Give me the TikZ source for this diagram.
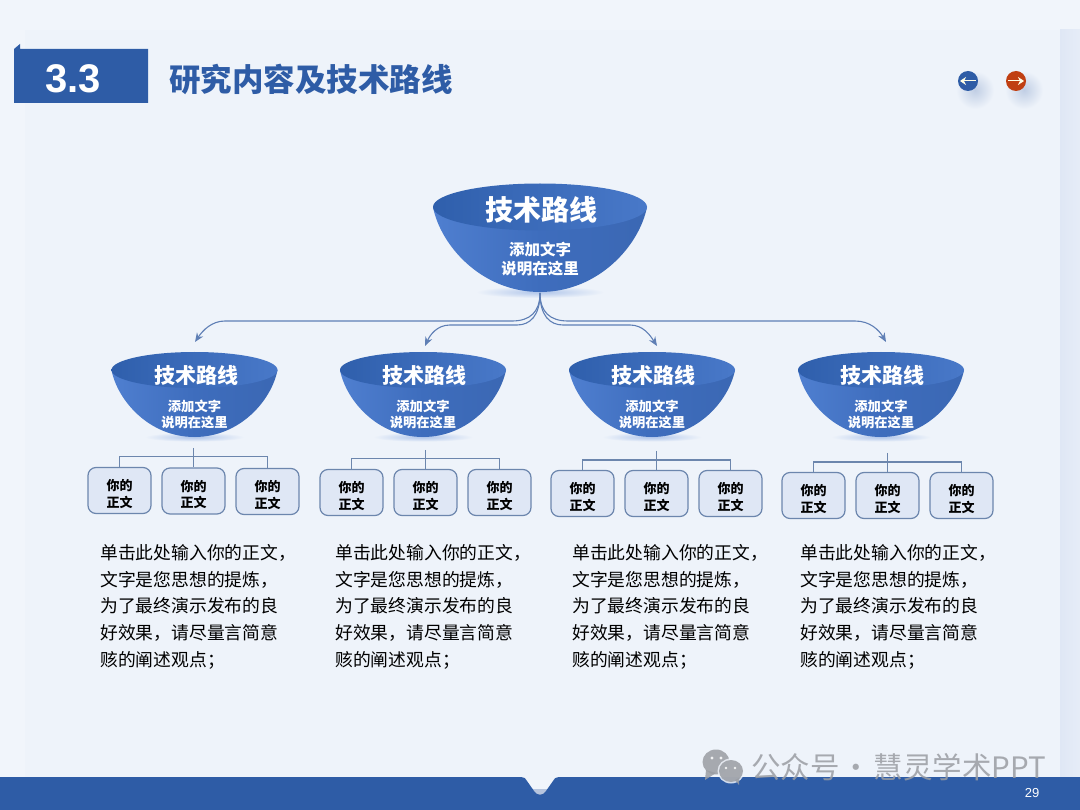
\documentclass[tikz,border=0pt]{standalone}
\usepackage{fontspec}
\setmainfont{Noto Sans CJK SC}
\newfontfamily\latinfont{Liberation Sans}
\usepackage{xcolor}
\usetikzlibrary{arrows.meta,positioning,calc,shapes.geometric}
\definecolor{RouteBlue}{HTML}{2E5CA6}
\definecolor{RouteDeep}{HTML}{2F5FAC}
\definecolor{RouteMid}{HTML}{3E6DBD}
\definecolor{RouteLight}{HTML}{4F7FD0}
\definecolor{RouteLine}{HTML}{5F7FB5}
\definecolor{PanelFill}{HTML}{EEF3FA}
\definecolor{PageFill}{HTML}{F1F5FB}
\definecolor{BandFill}{HTML}{DFE7F5}
\definecolor{BoxFill}{HTML}{DFE7F5}
\definecolor{BoxEdge}{HTML}{6C86AD}
\definecolor{NavRed}{HTML}{C03F12}
\definecolor{MarkGray}{HTML}{9A9DA3}
\tikzset{
  routearrow/.style={-{Stealth[length=3.2mm,width=2.6mm]},line width=1.1pt,draw=RouteLine},
  bracketline/.style={line width=1.2pt,draw=BoxEdge},
  partbox/.style={draw=BoxEdge,fill=BoxFill,line width=1.2pt,rounded corners=8pt,minimum width=63pt,minimum height=46pt,align=center,inner sep=0pt,font=\fontsize{13}{16.5}\selectfont\bfseries,text=black},
  bodytext/.style={anchor=north west,align=left,inner sep=0pt,font=\fontsize{17.8}{26.8}\selectfont,text=black},
  bigtitle/.style={text=white,inner sep=0pt,font=\fontsize{28}{30}\selectfont\bfseries},
  bigsub/.style={text=white,align=center,inner sep=0pt,font=\fontsize{15.5}{19}\selectfont\bfseries},
  smalltitle/.style={text=white,inner sep=0pt,font=\fontsize{21}{23}\selectfont\bfseries},
  smallsub/.style={text=white,align=center,inner sep=0pt,font=\fontsize{13.3}{16}\selectfont\bfseries},
  navdot/.style={circle,minimum size=20pt,inner sep=0pt},
  navarrow/.style={-{Stealth[length=6pt,width=8pt]},line width=1pt,draw=white!90!yellow}
}
\newcommand{\parttext}{\rule{0pt}{18pt}你的\\正文}
% bowl: centre x, rim y, half width, rim half height, depth
\newcommand{\bowlshape}[5]{%
  \begin{scope}[shift={(#1,#2)},x=#3pt,y=-#5pt]
    \shade[inner color=RouteLight!45,outer color=PanelFill] (0,1.0) ellipse [x radius=.6,y radius=.07];
    \shade[left color=RouteLight,right color=RouteMid!95!black,middle color=RouteMid]
      (-1,0) .. controls (-.93,.45) and (-.55,1) .. (0,1)
      .. controls (.55,1) and (.93,.45) .. (1,0) -- cycle;
    \shade[left color=RouteDeep,right color=RouteLight!80!RouteDeep]
      (0,0) ellipse [x radius=1,y radius=#4/#5];
  \end{scope}
}
\begin{document}
\begin{tikzpicture}[x=1pt,y=-1pt]
\useasboundingbox (0,0) rectangle (1080,810);
\fill[PageFill] (0,0) rectangle (1080,810);
\fill[PanelFill] (25,30) rectangle (1060,780);
\shade[left color=BandFill,right color=BandFill!60!PageFill] (1060,30) rectangle (1080,780);
% header
\fill[RouteBlue] (14,49) -- (20,44) -- (20,49) -- (148,49) -- (148,103) -- (14,103) -- cycle;
\node[inner sep=0pt,text=white,font=\fontsize{40}{42}\selectfont\latinfont\bfseries] (secnum) at (73,79) {3.3};
\node[anchor=west,inner sep=0pt,text=RouteBlue,font=\fontsize{31.5}{34}\selectfont\bfseries] (sectitle) at (169,79) {研究内容及技术路线};
% nav buttons
\shade[inner color=RouteBlue!30,outer color=PanelFill] (975,90) circle (19);
\shade[inner color=RouteBlue!30,outer color=PanelFill] (1024,90) circle (19);
\node[navdot,fill=RouteBlue] (navback) at (968,81) {};
\node[navdot,fill=NavRed] (navnext) at (1016,81) {};
\draw[navarrow] (navback.center) ++(8,0) -- ++(-16,0);
\draw[navarrow] (navnext.center) ++(-8,0) -- ++(16,0);
% bowls
\bowlshape{540}{207}{107}{23.5}{85}
\bowlshape{194.5}{370}{83}{18}{67}
\bowlshape{423}{370}{83}{18}{67}
\bowlshape{652}{370}{83}{18}{67}
\bowlshape{881}{370}{83}{18}{67}
\node[bigtitle] (root) at (541.5,210) {技术路线};
\node[bigsub] (rootsub) at (540,259) {添加文字\\说明在这里};
\coordinate (roottip) at (540,293);
\foreach \name/\cx in {a/194.5,b/423,c/652,d/881}{
  \node[smalltitle] (route\name) at (\cx+1.5,375) {技术路线};
  \node[smallsub] (sub\name) at (\cx,414) {添加文字\\说明在这里};
}
\coordinate (tipa) at (195,342);
\coordinate (tipb) at (425,346);
\coordinate (tipc) at (657,346);
\coordinate (tipd) at (886,342);
\draw[routearrow] (roottip) .. controls (540,312) and (530,321) .. (512,321) -- (225,321) .. controls (212,321) and (203,330) .. (tipa);
\draw[routearrow] (roottip) .. controls (540,316) and (530,325) .. (517,325) -- (450,325) .. controls (437,325) and (430,335) .. (tipb);
\draw[routearrow] (roottip) .. controls (540,316) and (550,325) .. (563,325) -- (630,325) .. controls (643,325) and (650,335) .. (tipc);
\draw[routearrow] (roottip) .. controls (540,312) and (550,321) .. (568,321) -- (855,321) .. controls (870,321) and (879,330) .. (tipd);
% part boxes
\node[partbox] (a1) at (119.5,490.5) {\parttext};
\node[partbox,right=9.8pt of a1,yshift=-.5pt] (a2) {\parttext};
\node[partbox,right=9.8pt of a2,yshift=-.5pt] (a3) {\parttext};
\node[partbox] (b1) at (351.5,492.5) {\parttext};
\node[partbox,right=9.8pt of b1] (b2) {\parttext};
\node[partbox,right=9.8pt of b2] (b3) {\parttext};
\node[partbox] (c1) at (582.5,493.5) {\parttext};
\node[partbox,right=9.8pt of c1] (c2) {\parttext};
\node[partbox,right=9.8pt of c2] (c3) {\parttext};
\node[partbox] (d1) at (813.5,495.5) {\parttext};
\node[partbox,right=9.8pt of d1] (d2) {\parttext};
\node[partbox,right=9.8pt of d2] (d3) {\parttext};
\foreach \g/\yb/\ytop in {a/456.5/448,b/458.5/450,c/460/451,d/462/453}{
  \coordinate (stem\g) at (\g2.north |- 0,\ytop);
  \draw[bracketline] (\g1.north) -- (\g1.north |- 0,\yb) -- (\g3.north |- 0,\yb) -- (\g3.north);
  \draw[bracketline] (stem\g) -- (\g2.north);
}
% body text
\node[bodytext] (texta) at (100,544) {单击此处输入你的正文，\\文字是您思想的提炼，\\为了最终演示发布的良\\好效果，请尽量言简意\\赅的阐述观点；};
\node[bodytext] (textb) at (335,544) {单击此处输入你的正文，\\文字是您思想的提炼，\\为了最终演示发布的良\\好效果，请尽量言简意\\赅的阐述观点；};
\node[bodytext] (textc) at (572,544) {单击此处输入你的正文，\\文字是您思想的提炼，\\为了最终演示发布的良\\好效果，请尽量言简意\\赅的阐述观点；};
\node[bodytext] (textd) at (800,544) {单击此处输入你的正文，\\文字是您思想的提炼，\\为了最终演示发布的良\\好效果，请尽量言简意\\赅的阐述观点；};
% footer
\fill[RouteLine!45] (530,788.5) rectangle (550,798);
\fill[RouteBlue] (0,777) -- (521,777) .. controls (524,777) and (525,778) .. (527,781) -- (534,791) .. controls (537,796) and (543,796) .. (546,791) -- (553,781) .. controls (555,778) and (556,777) .. (559,777) -- (1080,777) -- (1080,810) -- (0,810) -- cycle;
\node[inner sep=0pt,text=white,font=\fontsize{13}{15}\selectfont\latinfont] (pagenum) at (1032,793) {29};
% watermark
\begin{scope}[opacity=.85]
\fill[MarkGray] (716,762) ellipse [x radius=13.5,y radius=12.5];
\fill[MarkGray] (706,770) -- (705,780) -- (716,773) -- cycle;
\fill[PanelFill] (731,771) ellipse [x radius=13.5,y radius=12.5];
\fill[MarkGray] (731,771) ellipse [x radius=12,y radius=11];
\fill[MarkGray] (735,780) -- (739,785) -- (739,778) -- cycle;
\fill[white] (712,758) circle (1.6) (721,758) circle (1.6) (726,768) circle (1.4) (735,768) circle (1.4);
\end{scope}
\node[anchor=west,inner sep=0pt,text=MarkGray,opacity=.85,font=\fontsize{29.5}{31}\selectfont] (mark) at (751,767) {公众号\makebox[34pt]{·}慧灵学术PPT};
\end{tikzpicture}
\end{document}
